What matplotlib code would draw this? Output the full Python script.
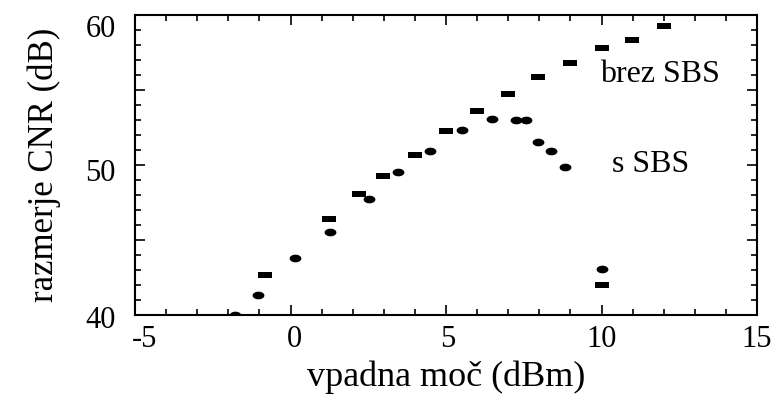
import numpy as np
import matplotlib
matplotlib.use('Agg')
import matplotlib.pyplot as plt
from matplotlib.ticker import MultipleLocator
from matplotlib.transforms import ScaledTranslation

# CNR vs. input power, without SBS (rectangles) and with SBS (ellipses)
brez_x = [-0.83, 1.25, 2.19, 2.96, 3.99, 5.0, 5.99, 7.0, 7.97, 9.0, 10.01, 10.98, 12.0, 10.0]
brez_y = [42.67, 46.38, 48.07, 49.27, 50.67, 52.27, 53.62, 54.71, 55.84, 56.78, 57.78, 58.33, 59.27, 42.0]

s_x = [-1.77, -1.05, 0.15, 1.26, 2.51, 3.45, 4.5, 5.51, 6.49, 7.26, 7.57, 7.97, 8.37, 8.82, 10.0]
s_y = [40.0, 41.33, 43.82, 45.56, 47.71, 49.56, 50.93, 52.33, 53.07, 53.0, 53.0, 51.56, 50.96, 49.84, 43.04]

x_ticks = [-5, 0, 5, 10, 15]
y_ticks = [40, 45, 50, 55, 60]
y_labels = ['40', '', '50', '', '60']

plt.rcParams['font.family'] = ['Liberation Serif', 'DejaVu Serif']
plt.rcParams['axes.unicode_minus'] = False

fig = plt.figure(figsize=(7.79, 3.97), dpi=100)
ax = fig.add_axes([135/779, 1 - 315/397, 622/779, 300/397])

# marker shapes
rect = [(-1, -0.5), (1, -0.5), (1, 0.5), (-1, 0.5), (-1, -0.5)]
t = np.linspace(0, 2*np.pi, 40)
ell = list(zip(np.cos(t), 0.65*np.sin(t)))

ax.plot(brez_x, brez_y, linestyle='none', marker=rect, markersize=9.5,
        color='black', markeredgewidth=0)
ax.plot(s_x, s_y, linestyle='none', marker=ell, markersize=8.5,
        color='black', markeredgewidth=0)

ax.set_xlim(-5, 15)
ax.set_ylim(40, 60)
ax.set_xticks(x_ticks)
ax.set_yticks(y_ticks)
ax.set_yticklabels(y_labels)
ax.xaxis.set_minor_locator(MultipleLocator(1))
ax.yaxis.set_minor_locator(MultipleLocator(1))
ax.tick_params(which='both', direction='in', top=True, right=True, width=1.2)
ax.tick_params(which='major', length=7, labelsize=22)
ax.tick_params(which='minor', length=4)
ax.tick_params(axis='x', pad=7)
ax.tick_params(axis='y', pad=14)
for s in ax.spines.values():
    s.set_linewidth(1.5)

# the scanned tick labels sit a little off their ticks
y_shift = [2, 0, 5, 0, 11]
for lab, d in zip(ax.get_yticklabels(), y_shift):
    lab.set_transform(lab.get_transform() + ScaledTranslation(0, -d/100, fig.dpi_scale_trans))
x_shift = [10, 4, 2, 0, 0]
for lab, d in zip(ax.get_xticklabels(), x_shift):
    lab.set_transform(lab.get_transform() + ScaledTranslation(d/100, 0, fig.dpi_scale_trans))

ax.set_xlabel('vpadna moč (dBm)', fontsize=26, va='center')
ax.set_ylabel('razmerje CNR (dB)', fontsize=25, va='center')
ax.xaxis.set_label_coords(0.5, -0.208)
ax.yaxis.set_label_coords(-0.146, 0.5)

ax.text(9.95, 56.0, 'brez SBS', fontsize=23, va='center', ha='left')
ax.text(10.34, 50.0, 's SBS', fontsize=23, va='center', ha='left')

fig.savefig('out.png', dpi=100)
